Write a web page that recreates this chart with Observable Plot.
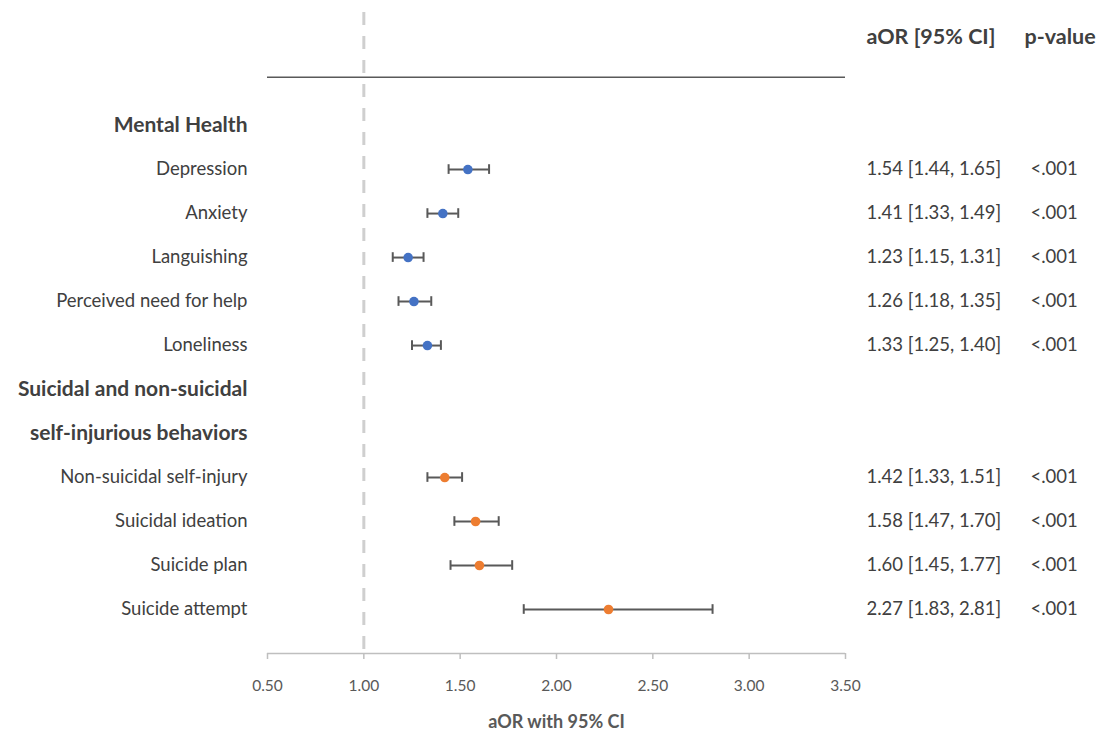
<!DOCTYPE html>
<html>
<head>
<meta charset="utf-8">
<script src="https://cdn.jsdelivr.net/npm/d3@7"></script>
<script src="https://cdn.jsdelivr.net/npm/@observablehq/plot@0.6"></script>
<style>
  html, body { margin: 0; padding: 0; background: #fff; }
  #chart { width: 1102px; height: 737px; }
</style>
</head>
<body>
<div id="chart"></div>
<script>
// ---- data ----
const sectionHeaders = ["Mental Health", "Suicidal and non-suicidal", "self-injurious behaviors"];
const sectionRows = [0, 6, 7];
const outcomes = ["Depression", "Anxiety", "Languishing", "Perceived need for help", "Loneliness",
                  "Non-suicidal self-injury", "Suicidal ideation", "Suicide plan", "Suicide attempt"];
const outcomeRows = [1, 2, 3, 4, 5, 8, 9, 10, 11];
const groups = ["Mental Health", "Mental Health", "Mental Health", "Mental Health", "Mental Health",
                "Suicidal", "Suicidal", "Suicidal", "Suicidal"];
const aor = [1.54, 1.41, 1.23, 1.26, 1.33, 1.42, 1.58, 1.60, 2.27];
const lower = [1.44, 1.33, 1.15, 1.18, 1.25, 1.33, 1.47, 1.45, 1.83];
const upper = [1.65, 1.49, 1.31, 1.35, 1.40, 1.51, 1.70, 1.77, 2.81];
const pvalues = ["<.001", "<.001", "<.001", "<.001", "<.001", "<.001", "<.001", "<.001", "<.001"];
const xTicks = [0.5, 1.0, 1.5, 2.0, 2.5, 3.0, 3.5];
const columnHeaders = ["aOR [95% CI]", "p-value"];
const headerRow = -2;
const separatorRow = -1.1;
const nullValue = 1;
const axisTitle = "aOR with 95% CI";

// ---- derived table ----
const data = outcomes.map((name, i) => ({
  name, row: outcomeRows[i], group: groups[i], aor: aor[i], lo: lower[i], hi: upper[i], p: pvalues[i],
  ci: `${aor[i].toFixed(2)} [${lower[i].toFixed(2)}, ${upper[i].toFixed(2)}]`
}));
const headers = sectionHeaders.map((label, i) => ({label, row: sectionRows[i]}));

const FONT = "Lato, 'Open Sans', sans-serif";
const TXT = "#404040";
const capH = 0.11;

const chart = Plot.plot({
  width: 1102,
  height: 737,
  marginLeft: 267,
  marginRight: 257,
  marginTop: 12,
  marginBottom: 84,
  style: { fontFamily: FONT, background: "#fff", overflow: "visible" },
  x: { domain: [0.5, 3.5] },
  y: { domain: [12, -2.57], axis: null },
  color: { domain: ["Mental Health", "Suicidal"], range: ["#4472C4", "#ED7D31"] },
  marks: [
    // null reference line
    Plot.ruleX([nullValue], { stroke: "#cfcfcf", strokeWidth: 3, strokeDasharray: "13,11" }),
    // header separator
    Plot.ruleY([separatorRow], { x1: 0.5, x2: 3.5, stroke: "#595959", strokeWidth: 1.5 }),
    // x axis line
    Plot.ruleY([12], { x1: 0.5, x2: 3.5, stroke: "#bfbfbf", strokeWidth: 1.5 }),
    Plot.axisX({
      ticks: xTicks, tickFormat: d => d.toFixed(2), tickSize: 6, tickPadding: 20,
      stroke: "#bfbfbf", strokeWidth: 1.5, fill: "#595959", fontSize: 15.5, label: null
    }),
    Plot.text([axisTitle], {
      frameAnchor: "bottom", dy: 74, fontSize: 18, fontWeight: "bold", fill: "#595959"
    }),
    // CI bars
    Plot.ruleY(data, { y: "row", x1: "lo", x2: "hi", stroke: "#595959", strokeWidth: 2 }),
    Plot.ruleX(data, { x: "lo", y1: d => d.row - capH, y2: d => d.row + capH, stroke: "#595959", strokeWidth: 2 }),
    Plot.ruleX(data, { x: "hi", y1: d => d.row - capH, y2: d => d.row + capH, stroke: "#595959", strokeWidth: 2 }),
    Plot.dot(data, { x: "aor", y: "row", r: 4.8, fill: "group", stroke: null }),
    // left labels
    Plot.text(data, {
      y: "row", text: "name", frameAnchor: "left", dx: -20, textAnchor: "end",
      fontSize: 18.5, fill: TXT
    }),
    Plot.text(headers, {
      y: "row", text: "label", frameAnchor: "left", dx: -20, textAnchor: "end",
      fontSize: 21, fontWeight: "bold", fill: TXT
    }),
    // right columns
    Plot.text(data, {
      y: "row", text: "ci", frameAnchor: "right", dx: 21, textAnchor: "start",
      fontSize: 18.5, fill: TXT
    }),
    Plot.text(data, {
      y: "row", text: "p", frameAnchor: "right", dx: 185, textAnchor: "start",
      fontSize: 18.5, fill: TXT
    }),
    Plot.text([columnHeaders[0]], {
      y: [headerRow], frameAnchor: "right", dx: 21, textAnchor: "start",
      fontSize: 21.5, fontWeight: "bold", fill: TXT
    }),
    Plot.text([columnHeaders[1]], {
      y: [headerRow], frameAnchor: "right", dx: 179, textAnchor: "start",
      fontSize: 21.5, fontWeight: "bold", fill: TXT
    })
  ]
});
document.getElementById("chart").appendChild(chart);
</script>
</body>
</html>
